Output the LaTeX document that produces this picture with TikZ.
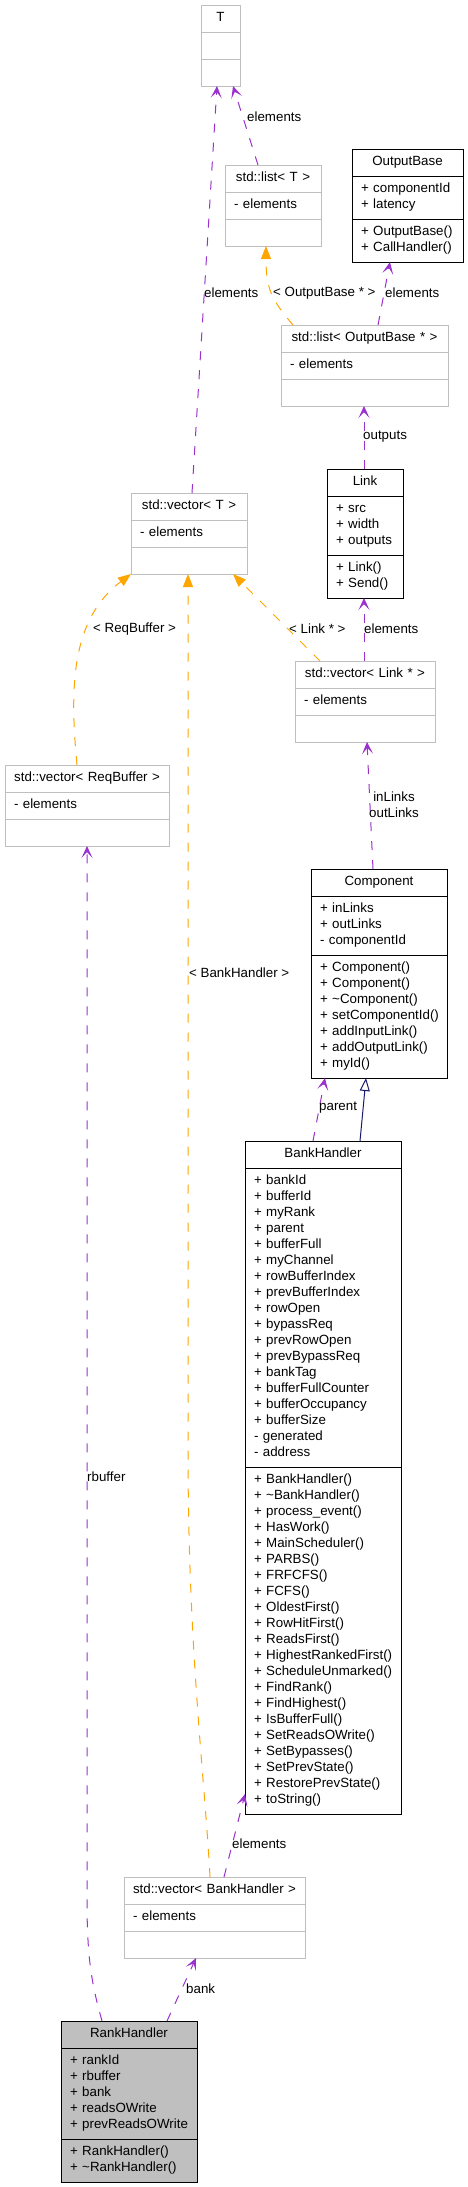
\documentclass[tikz,border=0pt]{standalone}
\usepackage{fontspec}
\setmainfont{Liberation Sans}
\usetikzlibrary{positioning,arrows.meta}
\definecolor{usepurple}{HTML}{9A32CD}
\definecolor{instorange}{HTML}{FFA500}
\definecolor{inhblue}{HTML}{191970}
\definecolor{tmplgray}{HTML}{BFBFBF}
% one class section: rows of 16pt, an empty section still keeps one row
\newcommand\mlist[1]{\noindent\begin{tabular}{@{}l@{}}\relax#1\end{tabular}}

\begin{document}
\begin{tikzpicture}[
  x=1pt, y=-1pt,
  box/.style={rectangle, draw=black, line width=1pt, outer sep=0pt,
              inner xsep=9pt, inner ysep=5.5pt,
              font=\fontsize{13.33}{16}\selectfont, text width=#1, align=left},
  tbox/.style={box=#1, draw=tmplgray},
  hd/.style={align=center},
  usage/.style={usepurple, line width=1pt, dash pattern=on 9pt off 10pt,
                -{Stealth[length=12pt,width=11pt,inset=6pt]}},
  inst/.style={instorange, line width=1pt, dash pattern=on 9pt off 10pt,
               -{Triangle[length=13pt,width=10pt]}},
  inh/.style={inhblue, line width=1pt, -{Triangle[open,length=13pt,width=10pt,fill=white]}},
  lbl/.style={font=\fontsize{13.33}{16}\selectfont, inner sep=0pt, anchor=west}
]
  \useasboundingbox (0,0) rectangle (467,2187);

  % templates
  \node[tbox=21pt, hd, anchor=north west] (t) at (201,5) {\mlist{T}};
  \node[tbox=21pt, below=0pt of t]   (t-a) {\mlist{}};
  \node[tbox=21pt, below=0pt of t-a] (t-m) {\mlist{}};

  \node[tbox=78pt, hd, anchor=north west] (listt) at (225,165) {\mlist{std::list< T >}};
  \node[tbox=78pt, below=0pt of listt]   (listt-a) {\mlist{- elements}};
  \node[tbox=78pt, below=0pt of listt-a] (listt-m) {\mlist{}};

  \node[tbox=149pt, hd, anchor=north west] (listob) at (281,325) {\mlist{std::list< OutputBase * >}};
  \node[tbox=149pt, below=0pt of listob]   (listob-a) {\mlist{- elements}};
  \node[tbox=149pt, below=0pt of listob-a] (listob-m) {\mlist{}};

  \node[tbox=98pt, hd, anchor=north west] (vect) at (131,493) {\mlist{std::vector< T >}};
  \node[tbox=98pt, below=0pt of vect]   (vect-a) {\mlist{- elements}};
  \node[tbox=98pt, below=0pt of vect-a] (vect-m) {\mlist{}};

  \node[tbox=122pt, hd, anchor=north west] (veclink) at (295,661) {\mlist{std::vector< Link * >}};
  \node[tbox=122pt, below=0pt of veclink]   (veclink-a) {\mlist{- elements}};
  \node[tbox=122pt, below=0pt of veclink-a] (veclink-m) {\mlist{}};

  \node[tbox=146pt, hd, anchor=north west] (vecrb) at (5,765) {\mlist{std::vector< ReqBuffer >}};
  \node[tbox=146pt, below=0pt of vecrb]   (vecrb-a) {\mlist{- elements}};
  \node[tbox=146pt, below=0pt of vecrb-a] (vecrb-m) {\mlist{}};

  \node[tbox=163pt, hd, anchor=north west] (vecbh) at (124,1877) {\mlist{std::vector< BankHandler >}};
  \node[tbox=163pt, below=0pt of vecbh]   (vecbh-a) {\mlist{- elements}};
  \node[tbox=163pt, below=0pt of vecbh-a] (vecbh-m) {\mlist{}};

  % classes
  \node[box=93pt, hd, anchor=north west] (ob) at (352,149) {\mlist{OutputBase}};
  \node[box=93pt, below=0pt of ob]   (ob-a) {\mlist{+ componentId\\+ latency}};
  \node[box=93pt, below=0pt of ob-a] (ob-m) {\mlist{+ OutputBase()\\+ CallHandler()}};

  \node[box=58pt, hd, anchor=north west] (link) at (327,469) {\mlist{Link}};
  \node[box=58pt, below=0pt of link]   (link-a) {\mlist{+ src\\+ width\\+ outputs}};
  \node[box=58pt, below=0pt of link-a] (link-m) {\mlist{+ Link()\\+ Send()}};

  \node[box=118pt, hd, anchor=north west] (comp) at (311,869) {\mlist{Component}};
  \node[box=118pt, below=0pt of comp]   (comp-a) {\mlist{+ inLinks\\+ outLinks\\- componentId}};
  \node[box=118pt, below=0pt of comp-a] (comp-m) {\mlist{+ Component()\\+ Component()\\+ \textasciitilde Component()\\+ setComponentId()\\+ addInputLink()\\+ addOutputLink()\\+ myId()}};

  \node[box=138pt, hd, anchor=north west] (bh) at (245,1141) {\mlist{BankHandler}};
  \node[box=138pt, below=0pt of bh]   (bh-a) {\mlist{+ bankId\\+ bufferId\\+ myRank\\+ parent\\+ bufferFull\\+ myChannel\\+ rowBufferIndex\\+ prevBufferIndex\\+ rowOpen\\+ bypassReq\\+ prevRowOpen\\+ prevBypassReq\\+ bankTag\\+ bufferFullCounter\\+ bufferOccupancy\\+ bufferSize\\- generated\\- address}};
  \node[box=138pt, below=0pt of bh-a] (bh-m) {\mlist{+ BankHandler()\\+ \textasciitilde BankHandler()\\+ process\_event()\\+ HasWork()\\+ MainScheduler()\\+ PARBS()\\+ FRFCFS()\\+ FCFS()\\+ OldestFirst()\\+ RowHitFirst()\\+ ReadsFirst()\\+ HighestRankedFirst()\\+ ScheduleUnmarked()\\+ FindRank()\\+ FindHighest()\\+ IsBufferFull()\\+ SetReadsOWrite()\\+ SetBypasses()\\+ SetPrevState()\\+ RestorePrevState()\\+ toString()}};

  \node[box=118pt, fill=tmplgray, hd, anchor=north west] (rh) at (61,2021) {\mlist{RankHandler}};
  \node[box=118pt, fill=tmplgray, below=0pt of rh]   (rh-a) {\mlist{+ rankId\\+ rbuffer\\+ bank\\+ readsOWrite\\+ prevReadsOWrite}};
  \node[box=118pt, fill=tmplgray, below=0pt of rh-a] (rh-m) {\mlist{+ RankHandler()\\+ \textasciitilde RankHandler()}};

  % connectors
  \draw[usage] ([xshift=61pt]vect.north west) -- ([xshift=16pt]t-m.south west);
  \draw[usage] ([xshift=33pt]listt.north west) -- ([xshift=32pt]t-m.south west);
  \draw[inst] ([xshift=12pt]listob.north west) .. controls (272,300) and (266,290) .. ([xshift=41pt]listt-m.south west);
  \draw[usage] ([xshift=97pt]listob.north west) -- ([xshift=38pt]ob-m.south west);
  \draw[usage] ([xshift=37pt]link.north west) -- ([xshift=83pt]listob-m.south west);
  \draw[usage] ([xshift=69pt]veclink.north west) -- ([xshift=37pt]link-m.south west);
  \draw[inst] ([xshift=25pt]veclink.north west) -- ([xshift=-14pt]vect-m.south east);
  \draw[inst] ([xshift=72pt]vecrb.north west) .. controls (70,690) and (70,620) .. (vect-m.south west);
  \draw[inst] ([xshift=86pt]vecbh.north west) .. controls (205,1780) and (188,1650) .. (188,1450) -- ([xshift=57pt]vect-m.south west);
  \draw[usage] ([xshift=62pt]comp.north west) -- ([xshift=72pt]veclink-m.south west);
  \draw[usage] ([xshift=68pt]bh.north west) -- ([xshift=14pt]comp-m.south west);
  \draw[inh] ([xshift=115pt]bh.north west) -- ([xshift=55pt]comp-m.south west);
  \draw[usage] ([xshift=100pt]vecbh.north west) -- ([yshift=20pt]bh-m.south west);
  \draw[usage] ([xshift=41pt]rh.north west) .. controls (92,1985) and (87,1960) .. (87,1900) -- ([xshift=82pt]vecrb-m.south west);
  \draw[usage] ([xshift=106pt]rh.north west) -- ([xshift=72pt]vecbh-m.south west);

  % labels
  \node[lbl] (l-vect) at (204,293) {elements};
  \node[lbl] (l-listt) at (247,117) {elements};
  \node[lbl] (l-listob) at (273,293) {< OutputBase * >};
  \node[lbl] (l-ob) at (385,293) {elements};
  \node[lbl] (l-outputs) at (363,437) {outputs};
  \node[lbl] (l-link) at (364,629) {elements};
  \node[lbl] (l-linkp) at (289,629) {< Link * >};
  \node[lbl] (l-reqbuf) at (93,629) {< ReqBuffer >};
  \node[lbl] (l-bankh) at (189,973) {< BankHandler >};
  \node[lbl, anchor=center, align=center] (l-links) at (394,805) {inLinks\\outLinks};
  \node[lbl] (l-parent) at (319,1108) {parent};
  \node[lbl] (l-bh) at (232,1844) {elements};
  \node[lbl] (l-rbuffer) at (87,1477) {rbuffer};
  \node[lbl] (l-bank) at (186,1989) {bank};
\end{tikzpicture}
\end{document}
